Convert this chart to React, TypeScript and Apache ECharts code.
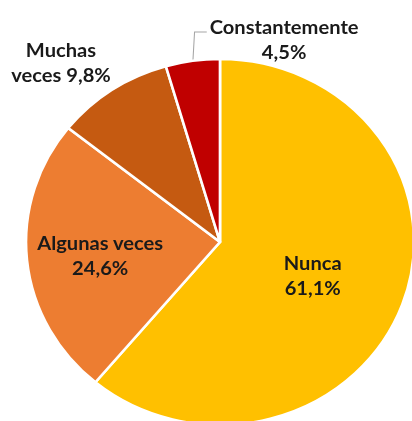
import React, { useEffect, useRef } from "react";
import * as echarts from "echarts";

const categories = ["Nunca", "Algunas veces", "Muchas veces", "Constantemente"];
const values = [61.1, 24.6, 9.8, 4.5];
const colors = ["#FFC000", "#ED7D31", "#C55A11", "#C00000"];
const labelTexts = ["Nunca\n61,1%", "Algunas veces\n24,6%", "Muchas\nveces 9,8%", "Constantemente\n4,5%"];

// label placement (pre-stretch layout coordinates)
const labelSpots = [
  { x: 307.5, y: 275 },
  { x: 107, y: 255 },
  { x: 70, y: 62.5 },
  { x: 280.5, y: 39 },
];

const STRETCH = 1.06;

export default function App() {
  const ref = useRef<HTMLDivElement>(null);
  useEffect(() => {
    if (!ref.current) return;
    const chart = echarts.init(ref.current, undefined, { renderer: "svg" });
    chart.setOption({
      animation: false,
      series: [
        {
          type: "pie",
          center: [220, 242],
          radius: 183,
          startAngle: 90,
          clockwise: true,
          silent: true,
          avoidLabelOverlap: false,
          emphasis: { disabled: true },
          itemStyle: { borderColor: "#ffffff", borderWidth: 2.5 },
          data: categories.map((name, i) => ({
            name,
            value: values[i],
            itemStyle: { color: colors[i] },
            label: { position: i === 3 ? "outside" : "inside" },
            labelLine: { show: i === 3 },
          })),
          label: {
            show: true,
            formatter: (p: any) => labelTexts[p.dataIndex],
            fontFamily: "Lato",
            fontWeight: "bold",
            fontSize: 19,
            lineHeight: 25,
            color: "#1a1a1a",
            align: "center",
            overflow: "none",
          },
          labelLine: {
            show: true,
            lineStyle: { color: "#a6a6a6", width: 1 },
          },
          labelLayout: (params: any) => {
            const s = labelSpots[params.dataIndex];
            const out: any = { x: s.x, y: s.y, align: "center", verticalAlign: "middle" };
            if (params.dataIndex === 3) {
              out.labelLinePoints = [
                [194.5, 60],
                [196, 32],
                [207.5, 32],
              ];
            }
            return out;
          },
        },
      ],
    });
    return () => chart.dispose();
  }, []);
  return (
    <div
      ref={ref}
      style={{
        position: "fixed",
        left: 0,
        top: 0,
        width: 412,
        height: 421,
        transform: `scaleX(${STRETCH})`,
        transformOrigin: "220px 242px",
      }}
    />
  );
}
